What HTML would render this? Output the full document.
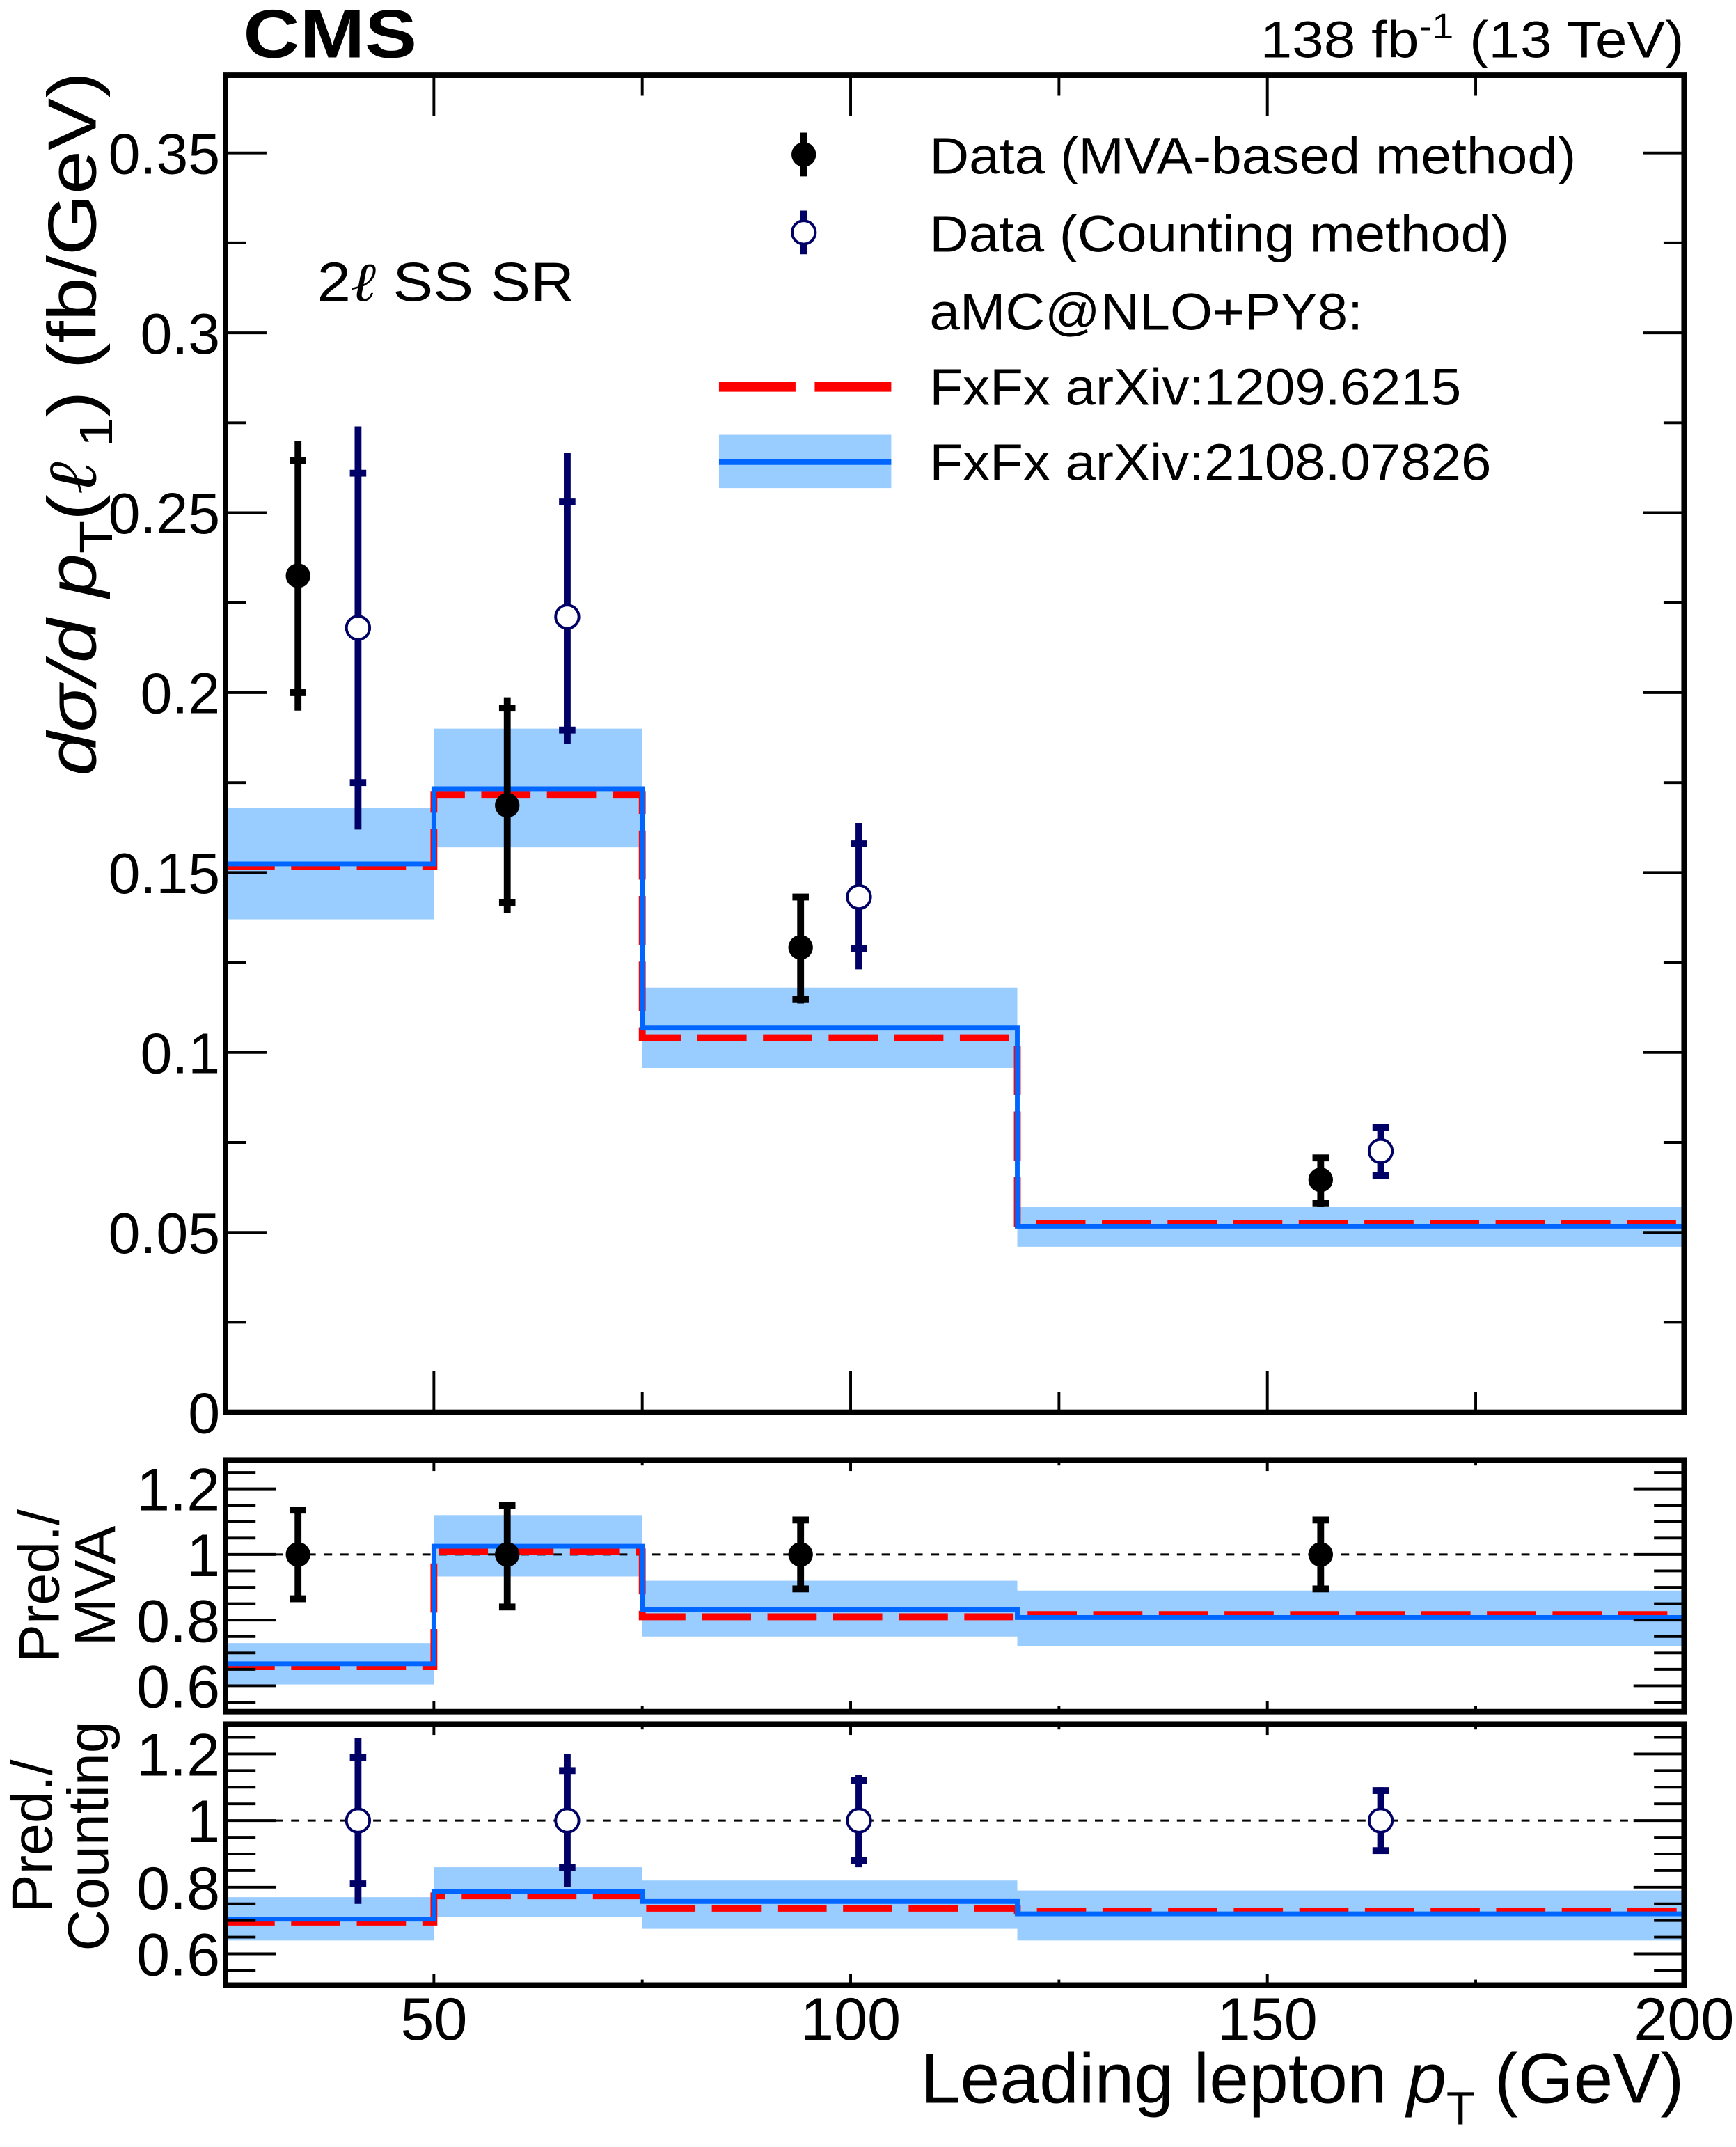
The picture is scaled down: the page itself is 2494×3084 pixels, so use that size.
<!DOCTYPE html>
<html><head><meta charset="utf-8"><style>
html,body{margin:0;padding:0;background:#fff}
svg{display:block}
text{font-family:"Liberation Sans",sans-serif;fill:#000}
</style></head><body>
<svg id="chart" xmlns="http://www.w3.org/2000/svg" width="2494" height="3084" viewBox="0 0 1270 1570.4">
<rect x="0" y="0" width="1270" height="1570.4" fill="#fff"/>
<g id="main"></g>
<text x="178" y="42" font-size="50" font-weight="bold" textLength="127" lengthAdjust="spacingAndGlyphs">CMS</text>
<text x="1232" y="42" font-size="38" text-anchor="end" textLength="310" lengthAdjust="spacingAndGlyphs">138 fb<tspan dy="-14" font-size="26">-1</tspan><tspan dy="14"> (13 TeV)</tspan></text>
<text x="232" y="220" font-size="40" textLength="188" lengthAdjust="spacingAndGlyphs">2<tspan font-style="italic" font-family="DejaVu Serif, serif">ℓ</tspan> SS SR</text>
<text transform="translate(70,310) rotate(-90)" font-size="50" text-anchor="middle" textLength="515" lengthAdjust="spacingAndGlyphs"><tspan font-style="italic">dσ/d p</tspan><tspan font-size="34" dy="12">T</tspan><tspan dy="-12">(</tspan><tspan font-style="italic" font-family="DejaVu Serif, serif">ℓ</tspan><tspan font-size="34" dy="12"> 1</tspan><tspan dy="-12">)  (fb/GeV)</tspan></text>
<text transform="translate(43,1160) rotate(-90)" font-size="42" text-anchor="middle">Pred./</text>
<text transform="translate(84,1160) rotate(-90)" font-size="42" text-anchor="middle">MVA</text>
<text transform="translate(38,1343) rotate(-90)" font-size="42" text-anchor="middle">Pred./</text>
<text transform="translate(79,1343) rotate(-90)" font-size="42" text-anchor="middle">Counting</text>
<text x="1232" y="1538" font-size="52" text-anchor="end">Leading lepton <tspan font-style="italic">p</tspan><tspan font-size="34" dy="16">T</tspan><tspan dy="-16"> (GeV)</tspan></text>
<g id="legend">
 <line x1="588" y1="97" x2="588" y2="129" stroke="#000" stroke-width="5"/>
 <circle cx="588" cy="113" r="9" fill="#000"/>
 <text x="680" y="127" font-size="38" textLength="473" lengthAdjust="spacingAndGlyphs">Data (MVA-based method)</text>
 <line x1="588" y1="154" x2="588" y2="186" stroke="#000066" stroke-width="5"/>
 <circle cx="588" cy="170" r="8.5" fill="#fff" stroke="#000066" stroke-width="2"/>
 <text x="680" y="184" font-size="38" textLength="424" lengthAdjust="spacingAndGlyphs">Data (Counting method)</text>
 <text x="680" y="241" font-size="38" textLength="317" lengthAdjust="spacingAndGlyphs">aMC@NLO+PY8:</text>
 <line x1="526" y1="283" x2="582" y2="283" stroke="#f00" stroke-width="7"/>
 <line x1="596" y1="283" x2="652" y2="283" stroke="#f00" stroke-width="7"/>
 <text x="680" y="296" font-size="38" textLength="389" lengthAdjust="spacingAndGlyphs">FxFx arXiv:1209.6215</text>
 <rect x="526" y="318" width="126" height="39" fill="#99ccff"/>
 <line x1="526" y1="338" x2="652" y2="338" stroke="#0066ff" stroke-width="4"/>
 <text x="680" y="351" font-size="38" textLength="411" lengthAdjust="spacingAndGlyphs">FxFx arXiv:2108.07826</text>
</g>
</svg>
<script>
// ---------------- data ----------------
const binEdges = [25, 50, 75, 120, 200];
const predBlue = [0.1524, 0.1733, 0.1068, 0.0517];
const predRed = [0.1516, 0.1717, 0.1041, 0.0524];
const bandLo = [0.137, 0.157, 0.0957, 0.046];
const bandHi = [0.168, 0.190, 0.118, 0.057];
const mvaX = [33.7, 58.8, 94, 156.4];
const mvaY = [0.2325, 0.1687, 0.1292, 0.0646];
const mvaTotLo = [0.195, 0.1387, 0.1136, 0.057];
const mvaTotHi = [0.270, 0.1987, 0.144, 0.0714];
const mvaStatLo = [0.200, 0.1417, 0.1147, 0.058];
const mvaStatHi = [0.2645, 0.1957, 0.1432, 0.0707];
const cntX = [40.9, 66, 101, 163.6];
const cntY = [0.218, 0.2211, 0.1432, 0.0726];
const cntTotLo = [0.162, 0.1858, 0.1231, 0.065];
const cntTotHi = [0.274, 0.2667, 0.1638, 0.0798];
const cntStatLo = [0.175, 0.1896, 0.1288, 0.0658];
const cntStatHi = [0.261, 0.253, 0.158, 0.0791];
// ratio MVA panel
const r1Blue = [0.667, 1.025, 0.833, 0.808];
const r1Red = [0.658, 1.008, 0.81, 0.817];
const r1BandLo = [0.604, 0.933, 0.75, 0.72];
const r1BandHi = [0.73, 1.12, 0.92, 0.89];
const r1TotLo = [0.858, 0.83, 0.89, 0.89];
const r1TotHi = [1.146, 1.16, 1.11, 1.11];
const r1StatLo = [0.865, 0.84, 0.895, 0.895];
const r1StatHi = [1.135, 1.15, 1.105, 1.105];
// ratio Counting panel
const r2Blue = [0.704, 0.786, 0.757, 0.72];
const r2Red = [0.695, 0.774, 0.737, 0.728];
const r2BandLo = [0.64, 0.71, 0.675, 0.64];
const r2BandHi = [0.77, 0.86, 0.82, 0.79];
const r2TotLo = [0.75, 0.8, 0.86, 0.9];
const r2TotHi = [1.247, 1.2, 1.136, 1.1];
const r2StatLo = [0.81, 0.86, 0.88, 0.91];
const r2StatHi = [1.19, 1.15, 1.12, 1.09];
const xTickLabels = ["50", "100", "150", "200"];
const yMainTickLabels = ["0", "0.05", "0.1", "0.15", "0.2", "0.25", "0.3", "0.35"];
const yRatioTickLabels = ["0.6", "0.8", "1", "1.2"];

// ---------------- axes ----------------
const NS = "http://www.w3.org/2000/svg";
const L = 165, R = 1232, XMIN = 25, XMAX = 200;
const xs = v => L + (v - XMIN) / (XMAX - XMIN) * (R - L);
function mkY(top, bot, vmin, vmax) { return v => bot - (v - vmin) / (vmax - vmin) * (bot - top); }
const panels = [
  {top: 55, bot: 1033, min: 0, max: 0.3716, name: "main"},
  {top: 1068, bot: 1252, min: 0.521, max: 1.2875, name: "ratio-mva"},
  {top: 1261, bot: 1452, min: 0.506, max: 1.29, name: "ratio-counting"}
];
panels.forEach(p => p.ys = mkY(p.top, p.bot, p.min, p.max));
const root = document.getElementById("main");
function el(tag, attrs, parent) {
  const e = document.createElementNS(NS, tag);
  for (const k in attrs) e.setAttribute(k, attrs[k]);
  (parent || root).appendChild(e);
  return e;
}

function drawBand(p, lo, hi, nm) {
  for (let i = 0; i < lo.length; i++) {
    const r = el("rect", {x: xs(binEdges[i]), y: p.ys(hi[i]), width: xs(binEdges[i + 1]) - xs(binEdges[i]), height: p.ys(lo[i]) - p.ys(hi[i]), fill: "#99ccff"});
    
    
  }
}
function stepPath(p, vals) {
  let d = "";
  for (let i = 0; i < vals.length; i++) {
    const y = p.ys(vals[i]);
    d += (i === 0 ? "M" : "L") + xs(binEdges[i]) + "," + y + "L" + xs(binEdges[i + 1]) + "," + y;
  }
  return d;
}
function drawPred(p, red, blue, nm) {
  const r = el("path", {d: stepPath(p, red), fill: "none", stroke: "#ff0000", "stroke-width": 5, "stroke-dasharray": "36,12"});
  
  
  const b = el("path", {d: stepPath(p, blue), fill: "none", stroke: "#0066ff", "stroke-width": 3.5});
  
  
}
function drawPoints(p, xv, yv, tlo, thi, slo, shi, color, open, nm) {
  for (let i = 0; i < xv.length; i++) {
    const g = el("g", {});
    
    
    const x = xs(xv[i]);
    el("line", {x1: x, x2: x, y1: p.ys(thi[i]), y2: p.ys(tlo[i]), stroke: color, "stroke-width": 5}, g);
    [slo[i], shi[i]].forEach(v => el("rect", {x: x - 6, y: p.ys(v) - 2.5, width: 12, height: 5, fill: color}, g));
    el("circle", {cx: x, cy: p.ys(yv[i]), r: open ? 8.5 : 9, fill: open ? "#fff" : color, stroke: color, "stroke-width": open ? 2 : 0}, g);
  }
}
function drawFrame(p, majors, minors, labels, majLen, minLen, fsz) {
  const g = el("g", {});
  
  
  majors.forEach((v, i) => {
    const y = p.ys(v);
    el("line", {x1: L, x2: L + majLen, y1: y, y2: y, stroke: "#000", "stroke-width": 2}, g);
    el("line", {x1: R, x2: R - majLen, y1: y, y2: y, stroke: "#000", "stroke-width": 2}, g);
    const t = el("text", {x: L - 4, y: y + fsz * 0.36, "font-size": fsz, "text-anchor": "end"}, g);
    t.textContent = labels[i];
    
    
  });
  minors.forEach(v => {
    const y = p.ys(v);
    el("line", {x1: L, x2: L + minLen, y1: y, y2: y, stroke: "#000", "stroke-width": 2}, g);
    el("line", {x1: R, x2: R - minLen, y1: y, y2: y, stroke: "#000", "stroke-width": 2}, g);
  });
  const xl = (p.bot - p.top) > 500 ? 30 : 8, xm = (p.bot - p.top) > 500 ? 15 : 4;
  [50, 100, 150, 200].forEach(v => {
    el("line", {x1: xs(v), x2: xs(v), y1: p.bot, y2: p.bot - xl, stroke: "#000", "stroke-width": 2}, g);
    el("line", {x1: xs(v), x2: xs(v), y1: p.top, y2: p.top + xl, stroke: "#000", "stroke-width": 2}, g);
  });
  [75, 125, 175].forEach(v => {
    el("line", {x1: xs(v), x2: xs(v), y1: p.bot, y2: p.bot - xm, stroke: "#000", "stroke-width": 2}, g);
    el("line", {x1: xs(v), x2: xs(v), y1: p.top, y2: p.top + xm, stroke: "#000", "stroke-width": 2}, g);
  });
  el("rect", {x: L, y: p.top, width: R - L, height: p.bot - p.top, fill: "none", stroke: "#000", "stroke-width": 4}, g);
}

// main panel
const P0 = panels[0];
drawBand(P0, bandLo, bandHi, "main");
drawPred(P0, predRed, predBlue, "main");
drawPoints(P0, mvaX, mvaY, mvaTotLo, mvaTotHi, mvaStatLo, mvaStatHi, "#000", false, "mva");
drawPoints(P0, cntX, cntY, cntTotLo, cntTotHi, cntStatLo, cntStatHi, "#000066", true, "counting");
const mainMaj = yMainTickLabels.map(Number);
const mainMin = []; for (let v = 0.025; v < 0.37; v += 0.05) mainMin.push(v);
drawFrame(P0, mainMaj, mainMin, yMainTickLabels, 30, 15, 42);

// ratio panels
const ratioMaj = yRatioTickLabels.map(Number);
const ratioMin = []; for (let v = 0.55; v < 1.29; v += 0.05) ratioMin.push(+v.toFixed(2));
[[panels[1], r1Blue, r1Red, r1BandLo, r1BandHi, mvaX, r1TotLo, r1TotHi, r1StatLo, r1StatHi, "#000", false],
 [panels[2], r2Blue, r2Red, r2BandLo, r2BandHi, cntX, r2TotLo, r2TotHi, r2StatLo, r2StatHi, "#000066", true]].forEach(a => {
  const [p, bl, rd, blo, bhi, xv, tlo, thi, slo, shi, col, open] = a;
  drawBand(p, blo, bhi, p.name);
  const ref = el("line", {x1: L, x2: R, y1: p.ys(1), y2: p.ys(1), stroke: "#000", "stroke-width": 1.5, "stroke-dasharray": "6,6"});
  
  
  drawPred(p, rd, bl, p.name);
  drawPoints(p, xv, xv.map(() => 1), tlo, thi, slo, shi, col, open, p.name);
  drawFrame(p, ratioMaj, ratioMin.filter(v => !ratioMaj.includes(v)), yRatioTickLabels, 37, 22, 44);
});

// x tick labels
xTickLabels.forEach(s => {
  const t = el("text", {x: xs(Number(s)), y: 1492, "font-size": 44, "text-anchor": "middle"});
  t.textContent = s;
  
  
});
</script>
</body></html>
